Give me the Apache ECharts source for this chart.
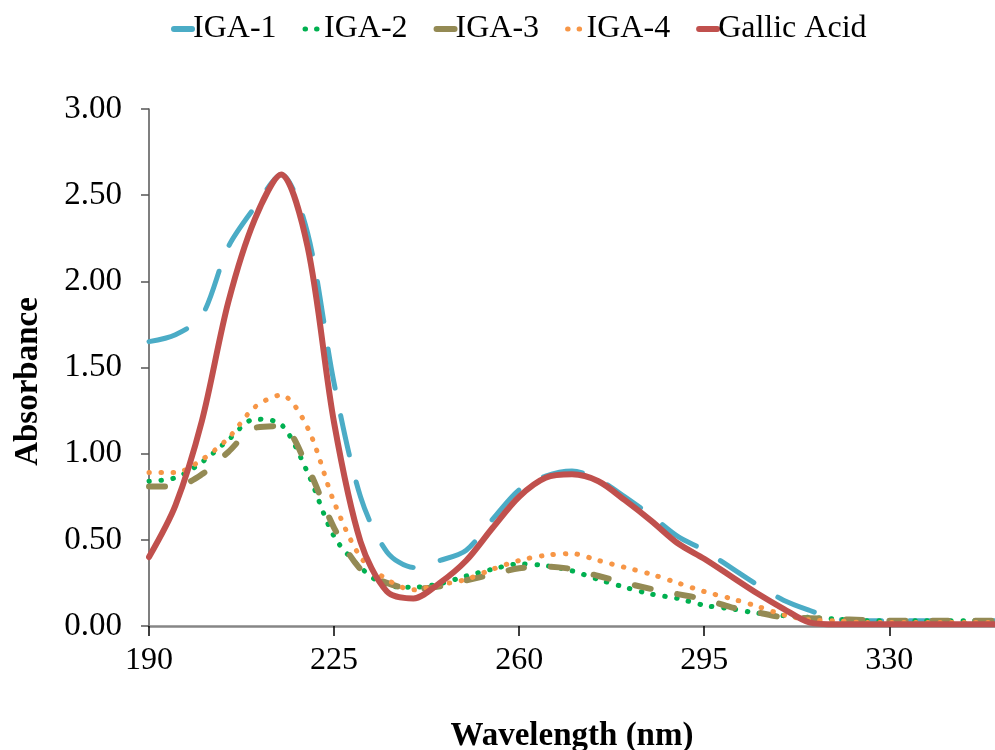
<!DOCTYPE html>
<html>
<head>
<meta charset="utf-8">
<script src="https://cdn.jsdelivr.net/npm/echarts@6/dist/echarts.min.js"></script>
<style>
  html, body { margin: 0; padding: 0; background: #fff; }
  #chart { width: 995px; height: 750px; }
</style>
</head>
<body>
<div id="chart"></div>
<script>
var wavelengths = [190, 195, 200, 205, 210, 215, 220, 225, 230, 235, 240, 245, 250, 255, 260, 265,
  270, 275, 280, 285, 290, 295, 300, 305, 310, 315, 320, 325, 330, 335, 340, 345, 350];
var xTicks = [190, 225, 260, 295, 330];

var iga1 = [1.65, 1.69, 1.80, 2.20, 2.43, 2.62, 2.28, 1.41, 0.75, 0.43, 0.34, 0.38, 0.44, 0.62, 0.79, 0.87,
  0.90, 0.85, 0.75, 0.64, 0.52, 0.44, 0.34, 0.24, 0.15, 0.09, 0.04, 0.03, 0.03, 0.03, 0.03, 0.03, 0.03];
var iga2 = [0.84, 0.86, 0.95, 1.08, 1.20, 1.17, 0.89, 0.52, 0.34, 0.235, 0.225, 0.245, 0.29, 0.33, 0.36, 0.35,
  0.32, 0.27, 0.225, 0.185, 0.16, 0.12, 0.10, 0.075, 0.06, 0.05, 0.04, 0.03, 0.03, 0.03, 0.03, 0.03, 0.03];
var iga3 = [0.81, 0.81, 0.88, 1.01, 1.15, 1.16, 0.92, 0.57, 0.33, 0.25, 0.215, 0.23, 0.265, 0.30, 0.335, 0.345,
  0.33, 0.29, 0.25, 0.215, 0.185, 0.155, 0.11, 0.08, 0.05, 0.045, 0.04, 0.035, 0.03, 0.03, 0.03, 0.03, 0.03];
var iga4 = [0.89, 0.89, 0.965, 1.09, 1.27, 1.34, 1.15, 0.72, 0.40, 0.27, 0.21, 0.24, 0.27, 0.33, 0.38, 0.41,
  0.42, 0.38, 0.34, 0.30, 0.25, 0.20, 0.16, 0.115, 0.065, 0.035, 0.03, 0.02, 0.02, 0.02, 0.02, 0.02, 0.02];
var gallic = [0.40, 0.70, 1.19, 1.88, 2.36, 2.62, 2.20, 1.18, 0.49, 0.20, 0.16, 0.25, 0.38, 0.57, 0.75, 0.86,
  0.88, 0.84, 0.73, 0.61, 0.48, 0.39, 0.29, 0.19, 0.10, 0.02, 0.01, 0.01, 0.01, 0.01, 0.01, 0.01, 0.01];

function pairs(vals) {
  return wavelengths.map(function (w, i) { return [w, vals[i]]; });
}

function makeSeries(name, vals, color, width, dash) {
  return {
    name: name,
    type: 'line',
    data: pairs(vals),
    smooth: 0.3,
    symbol: 'none',
    lineStyle: { color: color, width: width, type: dash, cap: 'round', join: 'round' },
    itemStyle: { color: color }
  };
}

var font = 'Liberation Serif, Times New Roman, serif';
var axisColor = '#868686';
var dotLegend = { type: [0.5, 11], width: 5, cap: 'round' };
var barLegend = { type: 'solid', width: 6, cap: 'round' };

var myChart = echarts.init(document.getElementById('chart'));
var option = {
  animation: false,
  legend: {
    top: 8,
    left: 166,
    itemWidth: 18,
    itemHeight: 8,
    itemGap: 26,
    itemStyle: { opacity: 0 },
    textStyle: { fontFamily: font, fontSize: 32, color: '#000', padding: [0, 0, 0, -4] },
    data: [
      { name: 'IGA-1', lineStyle: barLegend },
      { name: 'IGA-2', lineStyle: dotLegend },
      { name: 'IGA-3', lineStyle: barLegend },
      { name: 'IGA-4', lineStyle: dotLegend },
      { name: 'Gallic Acid', lineStyle: barLegend }
    ]
  },
  grid: { left: 149, right: 0, top: 109, bottom: 124, outerBoundsMode: 'none' },
  xAxis: {
    type: 'value',
    min: 190,
    max: 350,
    name: 'Wavelength (nm)',
    nameLocation: 'middle',
    nameGap: 94,
    nameTextStyle: { fontFamily: font, fontSize: 33, fontWeight: 'bold', color: '#000' },
    axisLine: { lineStyle: { color: axisColor, width: 2.5 } },
    axisTick: { show: true, length: 10, lineStyle: { color: '#000', width: 1.5 }, customValues: xTicks },
    axisLabel: { fontFamily: font, fontSize: 32, color: '#000', margin: 19, customValues: xTicks },
    splitLine: { show: false }
  },
  yAxis: {
    type: 'value',
    min: 0,
    max: 3,
    interval: 0.5,
    name: 'Absorbance',
    nameLocation: 'middle',
    nameGap: 104,
    nameTextStyle: { fontFamily: font, fontSize: 33, fontWeight: 'bold', color: '#000', padding: [0, 28, 0, 0] },
    axisLine: { show: true, lineStyle: { color: '#555', width: 1.5 } },
    axisTick: { show: true, length: 8, lineStyle: { color: '#555', width: 1.5 } },
    axisLabel: {
      fontFamily: font, fontSize: 33, color: '#000', margin: 27,
      formatter: function (v) { return v.toFixed(2); }
    },
    splitLine: { show: false }
  },
  series: [
    makeSeries('IGA-1', iga1, '#4BACC6', 5, [40, 28]),
    makeSeries('IGA-2', iga2, '#00B050', 5, [0.5, 11.5]),
    makeSeries('IGA-3', iga3, '#948A54', 6, [16, 27]),
    makeSeries('IGA-4', iga4, '#F79646', 5, [0.5, 11.5]),
    makeSeries('Gallic Acid', gallic, '#C0504D', 6, 'solid')
  ]
};
myChart.setOption(option);
</script>
</body>
</html>
